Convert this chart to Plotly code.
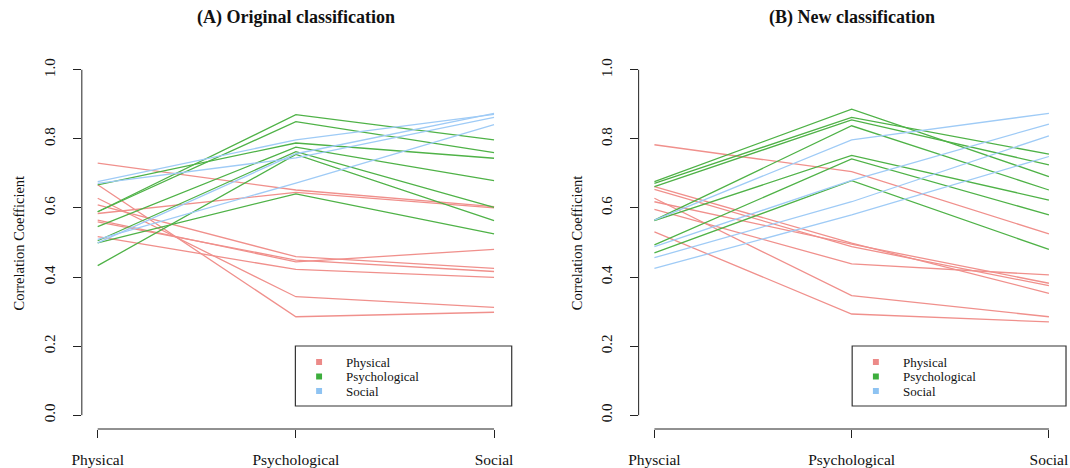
import plotly.graph_objects as go

# ---------------- data ----------------
cats_A = ["Physical", "Psychological", "Social"]
cats_B = ["Physcial", "Psychological", "Social"]
groups = ["Physical", "Psychological", "Social"]

# Panel A: Original classification (each inner list = one item across the 3 domains)
A_physical = [
    [0.730, 0.652, 0.604],
    [0.584, 0.645, 0.600],
    [0.667, 0.285, 0.298],
    [0.628, 0.343, 0.312],
    [0.609, 0.459, 0.425],
    [0.565, 0.444, 0.480],
    [0.560, 0.449, 0.416],
    [0.517, 0.422, 0.399],
]
A_psychological = [
    [0.589, 0.870, 0.797],
    [0.589, 0.850, 0.760],
    [0.667, 0.788, 0.744],
    [0.546, 0.776, 0.679],
    [0.505, 0.763, 0.602],
    [0.433, 0.755, 0.563],
    [0.499, 0.641, 0.525],
]
A_social = [
    [0.676, 0.797, 0.871],
    [0.671, 0.745, 0.862],
    [0.499, 0.757, 0.874],
    [0.509, 0.672, 0.841],
]

# Panel B: New classification
B_physical = [
    [0.783, 0.705, 0.525],
    [0.662, 0.498, 0.353],
    [0.654, 0.488, 0.375],
    [0.628, 0.346, 0.285],
    [0.618, 0.495, 0.382],
    [0.596, 0.438, 0.406],
    [0.531, 0.293, 0.270],
]
B_psychological = [
    [0.676, 0.886, 0.691],
    [0.671, 0.862, 0.756],
    [0.662, 0.855, 0.725],
    [0.565, 0.838, 0.652],
    [0.563, 0.752, 0.623],
    [0.493, 0.742, 0.580],
    [0.470, 0.679, 0.480],
]
B_social = [
    [0.565, 0.797, 0.874],
    [0.488, 0.680, 0.843],
    [0.456, 0.618, 0.809],
    [0.425, 0.580, 0.749],
]

y_ticks = [0.0, 0.2, 0.4, 0.6, 0.8, 1.0]
titles = ["(A) Original classification", "(B) New classification"]
y_title = "Correlation Coefficient"

# ---------------- style ----------------
line_colors = {"Physical": "#F0908C", "Psychological": "#4FB247", "Social": "#9FCBF6"}
legend_colors = {"Physical": "#EC8A88", "Psychological": "#3DAE3D", "Social": "#8EC3F2"}
FONT = "Liberation Serif, Times New Roman, serif"
W, H = 1070, 468


def px(x):
    # horizontal pixel target -> figure coordinate (compensates observed render offset)
    return (x - 9) / 0.99


panels = [
    dict(cats=cats_A, data={"Physical": A_physical, "Psychological": A_psychological, "Social": A_social},
         xdom=(px(81) / W, px(510) / W), xa="x", ya="y", title_x=px(296), ytitle_x=px(18), leg_x0=px(295)),
    dict(cats=cats_B, data={"Physical": B_physical, "Psychological": B_psychological, "Social": B_social},
         xdom=(px(639) / W, px(1066) / W), xa="x2", ya="y2", title_x=px(853), ytitle_x=px(577), leg_x0=px(853)),
]
ydom = (1 - 429 / H, 1 - 56 / H)

fig = go.Figure()
shapes, annotations = [], []

for i, p in enumerate(panels):
    for g in groups:
        for series in p["data"][g]:
            fig.add_trace(go.Scatter(
                x=p["cats"], y=series, mode="lines",
                line=dict(color=line_colors[g], width=1.3),
                showlegend=False, hoverinfo="skip",
                xaxis=p["xa"], yaxis=p["ya"],
            ))
    sfx = "" if i == 0 else "2"
    # R-style axis lines spanning first to last tick
    shapes.append(dict(type="line", xref=f"x{sfx} domain", yref=f"y{sfx}",
                       x0=0, x1=0, y0=y_ticks[0], y1=y_ticks[-1],
                       line=dict(color="#222", width=1)))
    shapes.append(dict(type="line", xref=f"x{sfx}", yref=f"y{sfx} domain",
                       x0=0, x1=len(p["cats"]) - 1, y0=0, y1=0,
                       line=dict(color="#222", width=1)))
    # titles
    annotations.append(dict(text=f"<b>{titles[i]}</b>", xref="paper", yref="paper",
                            x=p["title_x"] / W, y=1 - 18 / H, showarrow=False,
                            xanchor="center", yanchor="middle",
                            font=dict(family=FONT, size=18, color="#111")))
    annotations.append(dict(text=y_title, xref="paper", yref=f"y{sfx}",
                            x=p["ytitle_x"] / W, y=0.5, showarrow=False, textangle=-90,
                            xanchor="center", yanchor="middle",
                            font=dict(family=FONT, size=14.5, color="#111")))
    # legend box
    lx0 = p["leg_x0"]
    lx1 = lx0 + 219
    shapes.append(dict(type="rect", xref="paper", yref="paper",
                       x0=lx0 / W, x1=min(lx1, W - 1) / W, y0=1 - 406 / H, y1=1 - 346 / H,
                       line=dict(color="#333", width=1.2), fillcolor="rgba(0,0,0,0)"))
    for k, g in enumerate(groups):
        yc = 362 + k * 14.5
        shapes.append(dict(type="rect", xref="paper", yref="paper",
                           x0=(lx0 + 21) / W, x1=(lx0 + 27) / W,
                           y0=1 - (yc + 3) / H, y1=1 - (yc - 3) / H,
                           line=dict(width=0), fillcolor=legend_colors[g]))
        annotations.append(dict(text=g, xref="paper", yref="paper",
                                x=(lx0 + 49) / W, y=1 - yc / H, showarrow=False,
                                xanchor="left", yanchor="middle",
                                font=dict(family=FONT, size=13, color="#111")))

axis_common_x = dict(type="category", range=[-0.08, 2.08], showgrid=False, zeroline=False,
                     showline=False, ticks="outside", ticklen=8, tickwidth=1, tickcolor="#222",
                     tickfont=dict(family=FONT, size=15.5, color="#111"), ticklabelstandoff=8,
                     fixedrange=True)
axis_common_y = dict(range=[-0.04, 1.04], showgrid=False, zeroline=False, showline=False,
                     tickvals=y_ticks, ticktext=[f"{v:.1f}" for v in y_ticks],
                     ticks="outside", ticklen=8, tickwidth=1, tickcolor="#222",
                     tickangle=-90, tickfont=dict(family=FONT, size=15, color="#111"),
                     ticklabelstandoff=12, domain=list(ydom), fixedrange=True)

fig.update_layout(
    width=W, height=H,
    margin=dict(l=0, r=0, t=0, b=0),
    paper_bgcolor="white", plot_bgcolor="white",
    xaxis=dict(axis_common_x, domain=list(panels[0]["xdom"]), anchor="y"),
    yaxis=dict(axis_common_y, anchor="x"),
    xaxis2=dict(axis_common_x, domain=list(panels[1]["xdom"]), anchor="y2"),
    yaxis2=dict(axis_common_y, anchor="x2"),
    shapes=shapes, annotations=annotations,
    showlegend=False,
)

fig.write_html("out.html", config={"displayModeBar": False},
               post_script="document.body.style.margin='0';document.body.style.overflow='hidden';")
